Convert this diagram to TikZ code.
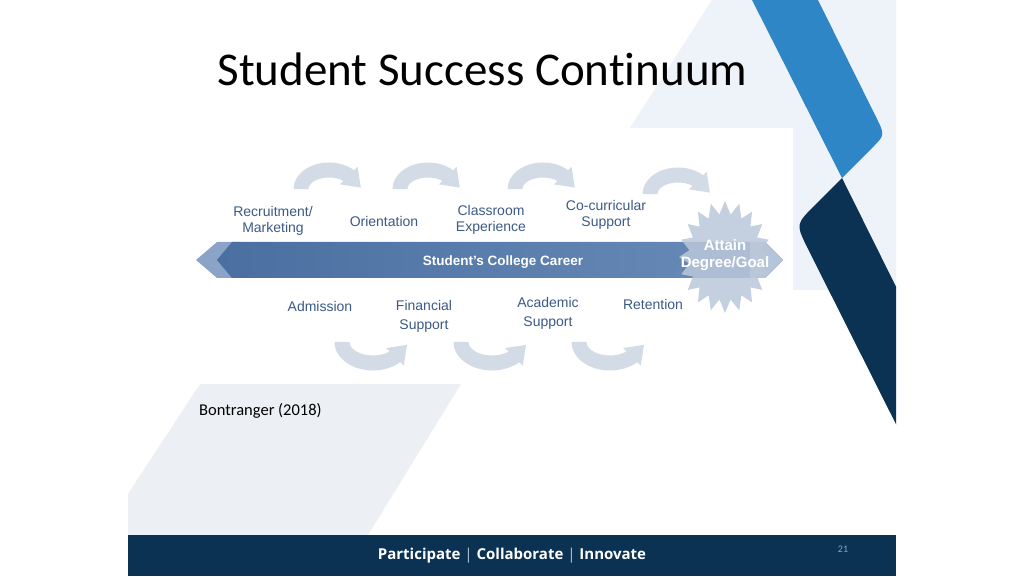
\documentclass[tikz,border=0pt]{standalone}
\usepackage{fontspec}
\setmainfont{Liberation Sans}
\newfontfamily\calibri[Ligatures=NoCommon]{Carlito}
\newfontfamily\opensans{Open Sans}
\definecolor{navy}{HTML}{0B3252}
\definecolor{ribbon}{HTML}{2E86C6}
\definecolor{pale}{HTML}{EEF3F9}
\definecolor{haze}{HTML}{ECEFF3}
\definecolor{lab}{HTML}{3C5A86}
\definecolor{barL}{HTML}{4A6FA0}
\definecolor{barR}{HTML}{6A8CB9}
\definecolor{tipL}{HTML}{8AA3C6}
\definecolor{tipR}{HTML}{B4C4D9}
\definecolor{burst}{HTML}{BAC8DA}
\definecolor{swoop}{HTML}{D3DCE6}
\definecolor{pagenum}{HTML}{8EA3BA}
\definecolor{bar}{HTML}{B9C7D6}
\begin{document}
\begin{tikzpicture}[x=1pt,y=1pt]
	\tikzset{lbl/.style={font=\fontsize{14}{16}\selectfont,text=lab,align=center,inner sep=0},
		arcover/.pic={
			\fill[swoop](-7.5,0)arc[start angle=180,end angle=45,x radius=35.5,y radius=26.5]--(56.6,22.2)--(59.8,1.4)--(39,4.6)--(42.5,8.1)arc[start angle=45,end angle=180,x radius=20.5,y radius=11.5]--cycle;
		},
		arcunder/.pic={
			\fill[swoop](-7.5,0)arc[start angle=180,end angle=315,x radius=38.5,y radius=28.5]--(61.7,-23.7)--(65,-2.9)--(44.1,-6)--(47.6,-9.5)arc[start angle=315,end angle=180,x radius=23.5,y radius=13.5]--cycle;
	}}
	\useasboundingbox[fill=white](0,0)rectangle(1024,576);
	\begin{scope}
		\clip(128,0)rectangle(896,576);
		\fill[pale](712,576)--(896,576)--(896,286)--(526,286)--cycle;
		\fill[white](190,191)rectangle(793,448);
		\fill[haze](200,192)--(461,192)--(368,41)--(101,41)--cycle;
		\fill[ribbon](750,580)--(816,580)--(876,459)..controls(885,441)..(872,428)--(842,398)--cycle;
		\fill[navy](842,398)--(816,372)..controls(796,352)..(806,331)--(922,100)--(990,100)--cycle;
		\fill[navy](128,0)rectangle(896,41);
	\end{scope}
	\node[font=\calibri\fontsize{47}{50}\selectfont,anchor=base](title)at(482.5,490){Student Success Continuum};
	\foreach \x/\y in{301/387,400/387,515/387,650/382}
	\path(\x,\y)pic{arcover};
	\foreach \x/\y in{342/234,461/234,579/234}
	\path(\x,\y)pic{arcunder};
	\fill[tipL](196,316)--(217,334)--(240,334)--(240,298)--(217,298)--cycle;
	\shade[left color=barL,right color=barR](232,334)--(765,334)--(783,316)--(765,298)--(232,298)--(217,316)--cycle;
	\fill[tipR](750,334)--(765,334)--(783,316)--(765,298)--(750,298)--cycle;
	\fill[burst,fill opacity=.85]plot[samples at={0,...,39}]({725+ifthenelse(mod(\x,2)==0,46,36)*cos(\x*9+90)},{319+ifthenelse(mod(\x,2)==0,56,43)*sin(\x*9+90)})--cycle;
	\node[font=\bfseries\fontsize{13.5}{16}\selectfont,text=white](career)at(503,314){Student’s College Career};
	\node[font=\bfseries\fontsize{15}{17}\selectfont,text=white,align=center,inner sep=0](goal)at(725,321){Attain\\Degree/Goal};
	\node[lbl](rec)at(273,355){Recruitment/\\Marketing};
	\node[lbl](ori)at(384,355){Orientation};
	\node[lbl](cla)at(491,356){Classroom\\Experience};
	\node[lbl](cocu)at(606,361){Co-curricular\\Support};
	\node[lbl](adm)at(320,270){Admission};
	\node[lbl,font=\fontsize{14}{19}\selectfont](fin)at(424,260){Financial\\Support};
	\node[lbl,font=\fontsize{14}{19}\selectfont](aca)at(548,263){Academic\\Support};
	\node[lbl](ret)at(653,272){Retention};
	\node[font=\calibri\fontsize{16.5}{19}\selectfont,anchor=west,inner sep=0](cite)at(199,165){Bontranger (2018)};
	\node[font=\calibri\fontsize{10}{11}\selectfont,text=pagenum](page)at(843,27){21};
	\node[font=\opensans\bfseries\fontsize{15}{18}\selectfont,text=white](motto)at(512,20){Participate \textcolor{bar}{\mdseries|} Collaborate \textcolor{bar}{\mdseries|} Innovate};
\end{tikzpicture}
\end{document}
